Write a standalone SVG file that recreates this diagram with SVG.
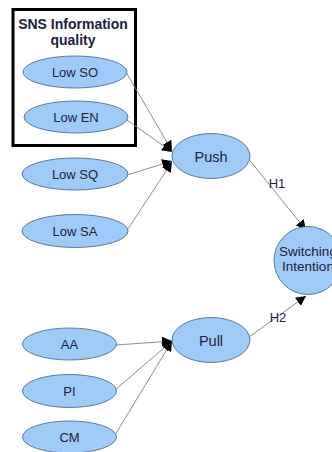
<svg xmlns="http://www.w3.org/2000/svg" width="332" height="452" viewBox="0 0 332 452">
<defs>
<marker id="ah" viewBox="0 0 10 10" refX="10" refY="5" markerWidth="10" markerHeight="10" markerUnits="userSpaceOnUse" orient="auto">
<path d="M0,0 L10,5 L0,10 z" fill="#000"/>
</marker>
<style>
.n{fill:#9ecbf7;stroke:#4f6f90;stroke-width:0.9}
.t{font-family:"Liberation Sans",Arial,sans-serif;fill:#1c2240;text-anchor:middle}
.c{stroke:#808080;stroke-width:0.9;fill:none;marker-end:url(#ah)}
</style>
</defs>
<rect width="332" height="452" fill="#fff"/>
<g id="group-box">
<rect x="13" y="9.5" width="122.5" height="136" fill="none" stroke="#000" stroke-width="3"/>
<text class="t" x="73" y="29" font-size="14" font-weight="bold" fill="#111">SNS Information</text>
<text class="t" x="73" y="44.5" font-size="14" font-weight="bold" fill="#111">quality</text>
</g>
<g id="connectors">
<line class="c" x1="126" y1="72" x2="172" y2="151"/>
<line class="c" x1="127" y1="120" x2="172" y2="152"/>
<line class="c" x1="127" y1="175" x2="172" y2="161"/>
<line class="c" x1="126" y1="232" x2="172" y2="162"/>
<line class="c" x1="116" y1="345" x2="172" y2="341"/>
<line class="c" x1="115" y1="390" x2="172" y2="341"/>
<line class="c" x1="115" y1="435" x2="172" y2="341"/>
<line class="c" x1="247" y1="157" x2="306" y2="230"/>
<line class="c" x1="249" y1="337" x2="306" y2="296"/>
<text class="t" x="277" y="188" font-size="13">H1</text>
<text class="t" x="278" y="322" font-size="13">H2</text>
</g>
<g id="node-lowso"><ellipse class="n" cx="75" cy="72" rx="52" ry="16"/><text class="t" x="75" y="77" font-size="13">Low SO</text></g>
<g id="node-lowen"><ellipse class="n" cx="76" cy="117" rx="52" ry="16"/><text class="t" x="76" y="122" font-size="13">Low EN</text></g>
<g id="node-lowsq"><ellipse class="n" cx="75" cy="174" rx="53" ry="16"/><text class="t" x="75" y="179" font-size="13">Low SQ</text></g>
<g id="node-lowsa"><ellipse class="n" cx="75" cy="231" rx="53" ry="16.5"/><text class="t" x="75" y="236" font-size="13">Low SA</text></g>
<g id="node-push"><ellipse class="n" cx="211" cy="156" rx="39" ry="22.5"/><text class="t" x="211" y="162" font-size="14.5">Push</text></g>
<g id="node-pull"><ellipse class="n" cx="211" cy="340" rx="39" ry="22.5"/><text class="t" x="211" y="346" font-size="14.5">Pull</text></g>
<g id="node-switching"><circle class="n" cx="308" cy="260.5" r="34"/><text class="t" x="308" y="255.5" font-size="13.5">Switching</text><text class="t" x="308" y="270.5" font-size="13.5">Intention</text></g>
<g id="node-aa"><ellipse class="n" cx="69.5" cy="344" rx="47" ry="16"/><text class="t" x="69.5" y="349" font-size="13">AA</text></g>
<g id="node-pi"><ellipse class="n" cx="69.5" cy="391" rx="47" ry="16.5"/><text class="t" x="69.5" y="396" font-size="13">PI</text></g>
<g id="node-cm"><ellipse class="n" cx="69.5" cy="437" rx="47" ry="16"/><text class="t" x="69.5" y="442" font-size="13">CM</text></g>
</svg>
